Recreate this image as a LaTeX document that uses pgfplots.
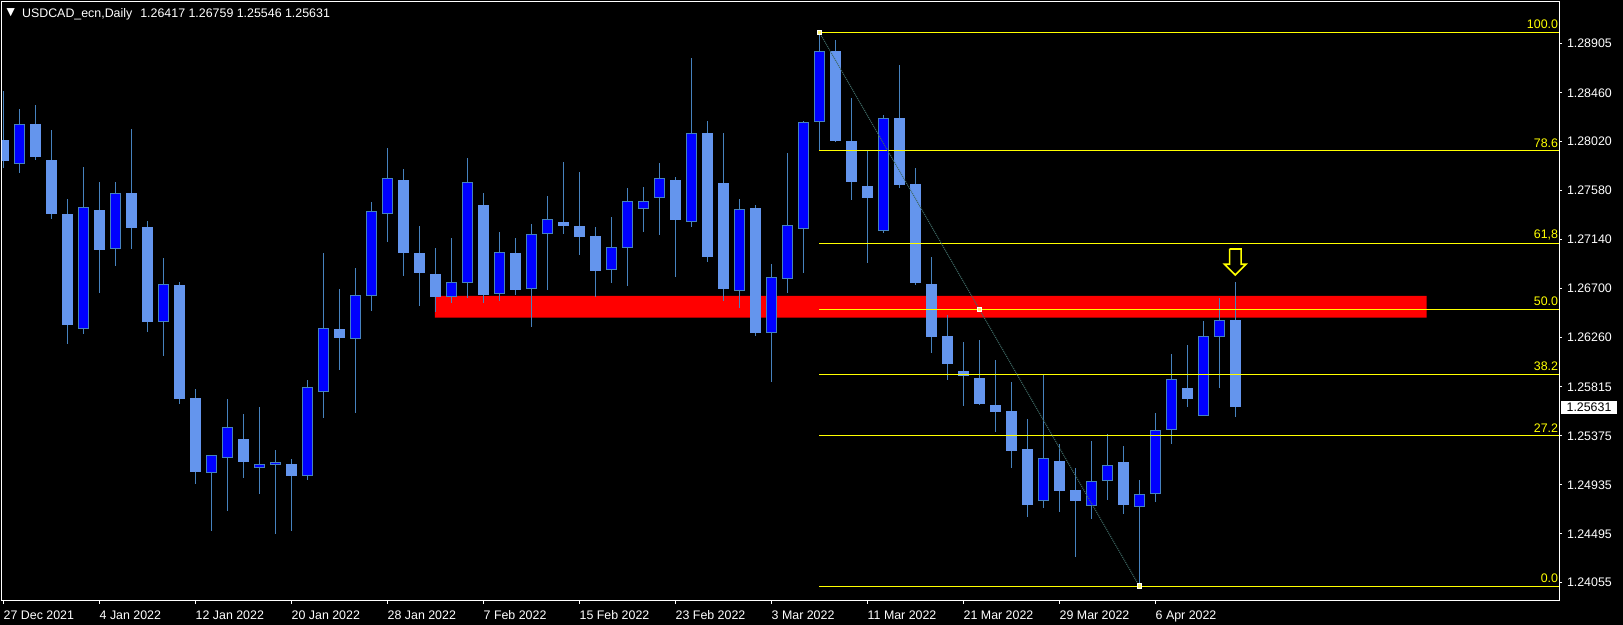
\documentclass[border=0pt]{standalone}
\usepackage{pgfplots}
\pgfplotsset{compat=1.18}
\usepackage{pgfplotstable}
\usepackage{fontspec}
\setmainfont{Liberation Sans}
\newfontfamily\dejavu{DejaVu Sans}

\definecolor{wick}{RGB}{70,130,190}
\definecolor{bearbody}{RGB}{100,149,237}
\definecolor{bullbody}{RGB}{0,0,255}
\definecolor{fib}{RGB}{255,255,0}
\definecolor{trend}{RGB}{62,104,100}

% daily bars, d = trading day from 27 Dec 2021
\pgfplotstableread{
d o h l c
1 1.27817 1.28314 1.27741 1.28177
5 1.26339 1.27793 1.26291 1.27430
7 1.27053 1.27658 1.26902 1.27556
10 1.26402 1.26974 1.26093 1.26738
13 1.25044 1.25201 1.24520 1.25201
14 1.25179 1.25707 1.24700 1.25452
16 1.25089 1.25635 1.24853 1.25122
17 1.25116 1.25248 1.24493 1.25140
19 1.25017 1.25878 1.24978 1.25815
20 1.25767 1.27019 1.25536 1.26342
22 1.26244 1.26885 1.25584 1.26639
23 1.26636 1.27478 1.26501 1.27394
24 1.27373 1.27963 1.27118 1.27691
28 1.26621 1.27154 1.26573 1.26756
29 1.26747 1.27874 1.26618 1.27655
31 1.26648 1.27208 1.26591 1.27026
33 1.26693 1.27280 1.26357 1.27188
34 1.27188 1.27532 1.26689 1.27331
38 1.26864 1.27343 1.26752 1.27071
39 1.27062 1.27604 1.26725 1.27484
40 1.27412 1.27613 1.27211 1.27484
41 1.27511 1.27829 1.27181 1.27691
43 1.27295 1.28773 1.27256 1.28096
46 1.26680 1.27505 1.26528 1.27412
48 1.26297 1.26921 1.25862 1.26801
49 1.26783 1.27919 1.26662 1.27268
50 1.27232 1.28206 1.26842 1.28194
51 1.28194 1.29004 1.27948 1.28833
55 1.27215 1.28260 1.27202 1.28231
65 1.24787 1.25922 1.24729 1.25182
68 1.24742 1.25329 1.24630 1.24967
69 1.24967 1.25392 1.24801 1.25111
71 1.24733 1.24978 1.24025 1.24850
72 1.24850 1.25581 1.24783 1.25425
73 1.25425 1.26111 1.25305 1.25884
75 1.25551 1.26408 1.25551 1.26270
76 1.26267 1.26615 1.25808 1.26417
}\bull

\pgfplotstableread{
d o h l c
0 1.28035 1.28476 1.27781 1.27847
2 1.28179 1.28350 1.27856 1.27885
3 1.27856 1.28125 1.27325 1.27373
4 1.27370 1.27505 1.26201 1.26372
6 1.27406 1.27658 1.26660 1.27049
8 1.27559 1.28134 1.27055 1.27244
9 1.27253 1.27307 1.26309 1.26399
11 1.26732 1.26759 1.25662 1.25707
12 1.25716 1.25797 1.24942 1.25050
15 1.25347 1.25572 1.24996 1.25140
18 1.25122 1.25167 1.24520 1.25014
21 1.26336 1.26696 1.25970 1.26258
25 1.27676 1.27775 1.26815 1.27022
26 1.27019 1.27262 1.26546 1.26842
27 1.26831 1.27064 1.26492 1.26627
30 1.27451 1.27559 1.26573 1.26644
32 1.27019 1.27154 1.26644 1.26689
35 1.27298 1.27838 1.27193 1.27265
36 1.27262 1.27748 1.27004 1.27166
37 1.27172 1.27253 1.26627 1.26860
42 1.27676 1.27703 1.26806 1.27316
44 1.28096 1.28206 1.26941 1.26983
45 1.27649 1.28098 1.26591 1.26698
47 1.27424 1.27451 1.26276 1.26300
52 1.28833 1.28934 1.28022 1.28029
53 1.28024 1.28413 1.27499 1.27660
54 1.27622 1.27934 1.26932 1.27517
56 1.28233 1.28710 1.27607 1.27634
57 1.27640 1.27784 1.26732 1.26752
58 1.26741 1.26983 1.26123 1.26267
59 1.26273 1.26462 1.25880 1.26024
60 1.25958 1.26219 1.25647 1.25916
61 1.25896 1.26237 1.25653 1.25664
62 1.25653 1.26057 1.25413 1.25592
63 1.25599 1.25859 1.25089 1.25242
64 1.25257 1.25527 1.24648 1.24756
66 1.25149 1.25302 1.24693 1.24882
67 1.24888 1.25086 1.24289 1.24792
70 1.25140 1.25284 1.24675 1.24756
74 1.25806 1.26192 1.25638 1.25709
77 1.26417 1.26759 1.25546 1.25631
}\bear

\pgfplotsset{
  candle/.style 2 args={draw=none, forget plot,
    error bars/.cd, y dir=both, y explicit, error mark=none,
    error bar style={draw=#1, line width=#2}},
  fibline/.style={fib, line width=0.5pt, forget plot},
}
\tikzset{fiblabel/.style={anchor=south east, text=fib, inner xsep=0.3pt, inner ysep=1.5pt}}

\begin{document}
\begin{tikzpicture}[font=\fontsize{6.2}{7.4}\selectfont]
\path[use as bounding box, fill=black] (-1pt,-12pt) rectangle (810.5pt,300.5pt);
\begin{axis}[
    scale only axis,
    width=778.5pt, height=299.5pt,
    xmin=-0.08, xmax=97.23,
    ymin=1.238905, ymax=1.292761,
    clip mode=individual,
    axis line style={white, line width=0.5pt},
    xtick={0,6,...,72},
    xticklabels={27 Dec 2021,4 Jan 2022,12 Jan 2022,20 Jan 2022,28 Jan 2022,7 Feb 2022,15 Feb 2022,23 Feb 2022,3 Mar 2022,11 Mar 2022,21 Mar 2022,29 Mar 2022,6 Apr 2022},
    ytick={1.24055,1.24495,1.24935,1.25375,1.25815,1.26260,1.26700,1.27140,1.27580,1.28020,1.28460,1.28905},
    yticklabels={1.24055,1.24495,1.24935,1.25375,1.25815,1.26260,1.26700,1.27140,1.27580,1.28020,1.28460,1.28905},
    xtick pos=bottom, ytick pos=right, yticklabel pos=right,
    tick align=outside, major tick length=1.5pt,
    tick style={white, line width=0.5pt},
    ticklabel style={text=white},
    xticklabel style={anchor=north west, inner sep=0pt, yshift=-3.3pt},
    yticklabel style={anchor=west, inner sep=0pt, xshift=2.3pt},
]

% resistance zone
\addplot [fill=red, draw=none, forget plot] coordinates {
  (26.98,1.26438) (88.96,1.26438) (88.96,1.26633) (26.98,1.26633) (26.98,1.26438)};

% wicks
\addplot [candle={wick}{0.5pt}] table [x=d, y expr={(\thisrow{h}+\thisrow{l})/2},
  y error expr={(\thisrow{h}-\thisrow{l})/2}] {\bull};
\addplot [candle={wick}{0.5pt}] table [x=d, y expr={(\thisrow{h}+\thisrow{l})/2},
  y error expr={(\thisrow{h}-\thisrow{l})/2}] {\bear};

% bodies
\addplot [candle={bearbody}{5.5pt}] table [x=d, y expr={(\thisrow{o}+\thisrow{c})/2},
  y error expr={max(abs(\thisrow{o}-\thisrow{c})/2,0.00005)}] {\bear};
\addplot [candle={wick}{5.5pt}] table [x=d, y expr={(\thisrow{o}+\thisrow{c})/2},
  y error expr={max(abs(\thisrow{o}-\thisrow{c})/2,0.00005)}] {\bull};
\addplot [candle={bullbody}{4.5pt}] table [x=d, y expr={(\thisrow{o}+\thisrow{c})/2},
  y error expr={max(abs(\thisrow{o}-\thisrow{c})/2-0.00009,0.000001)}] {\bull};

% fibonacci levels
\addplot [fibline] coordinates {(51,1.29004) (97.23,1.29004)};
\addplot [fibline] coordinates {(51,1.27939) (97.23,1.27939)};
\addplot [fibline] coordinates {(51,1.27102) (97.23,1.27102)};
\addplot [fibline] coordinates {(51,1.265145) (97.23,1.265145)};
\addplot [fibline] coordinates {(51,1.25927) (97.23,1.25927)};
\addplot [fibline] coordinates {(51,1.25379) (97.23,1.25379)};
\addplot [fibline] coordinates {(51,1.24025) (97.23,1.24025)};

% fib trend line
\addplot [trend, dash pattern=on 0.5pt off 0.5pt, line width=0.55pt, forget plot]
  coordinates {(51,1.29004) (71,1.24025)};
\addplot [only marks, mark=square*, mark size=1.1pt, forget plot,
  mark options={draw=white, fill=yellow!55!white, line width=0.4pt}]
  coordinates {(51,1.29004) (61,1.265145) (71,1.24025)};

% down arrow
\addplot [fib, line width=0.8pt, fill=black, forget plot] coordinates {
  (76.64,1.270554) (77.36,1.270554) (77.36,1.269178) (77.67,1.269178)
  (77,1.26822) (76.33,1.269178) (76.64,1.269178) (76.64,1.270554)};

\node[fiblabel] at (axis cs:97.23,1.29004) {100.0};
\node[fiblabel] at (axis cs:97.23,1.27939) {78.6};
\node[fiblabel] at (axis cs:97.23,1.27102) {61,8};
\node[fiblabel] at (axis cs:97.23,1.265145) {50.0};
\node[fiblabel] at (axis cs:97.23,1.25927) {38.2};
\node[fiblabel] at (axis cs:97.23,1.25379) {27.2};
\node[fiblabel] at (axis cs:97.23,1.24025) {0.0};

% last price
\node[anchor=west, fill=white, text=black, inner xsep=2.6pt, inner ysep=0pt,
  minimum height=6.85pt, xshift=1pt] at (axis cs:97.23,1.25631) {1.25631};

% header
\node[inner sep=0pt, text=white, font={\dejavu\fontsize{5.4}{6}\selectfont},
  xshift=4.4pt, yshift=-5.4pt] at (rel axis cs:0,1) {▼};
\node[anchor=base west, inner sep=0pt, text=white, xshift=9.85pt, yshift=-7.65pt]
  at (rel axis cs:0,1) {USDCAD\_ecn,Daily\hspace{4pt}1.26417 1.26759 1.25546 1.25631};

\end{axis}
\end{tikzpicture}
\end{document}
